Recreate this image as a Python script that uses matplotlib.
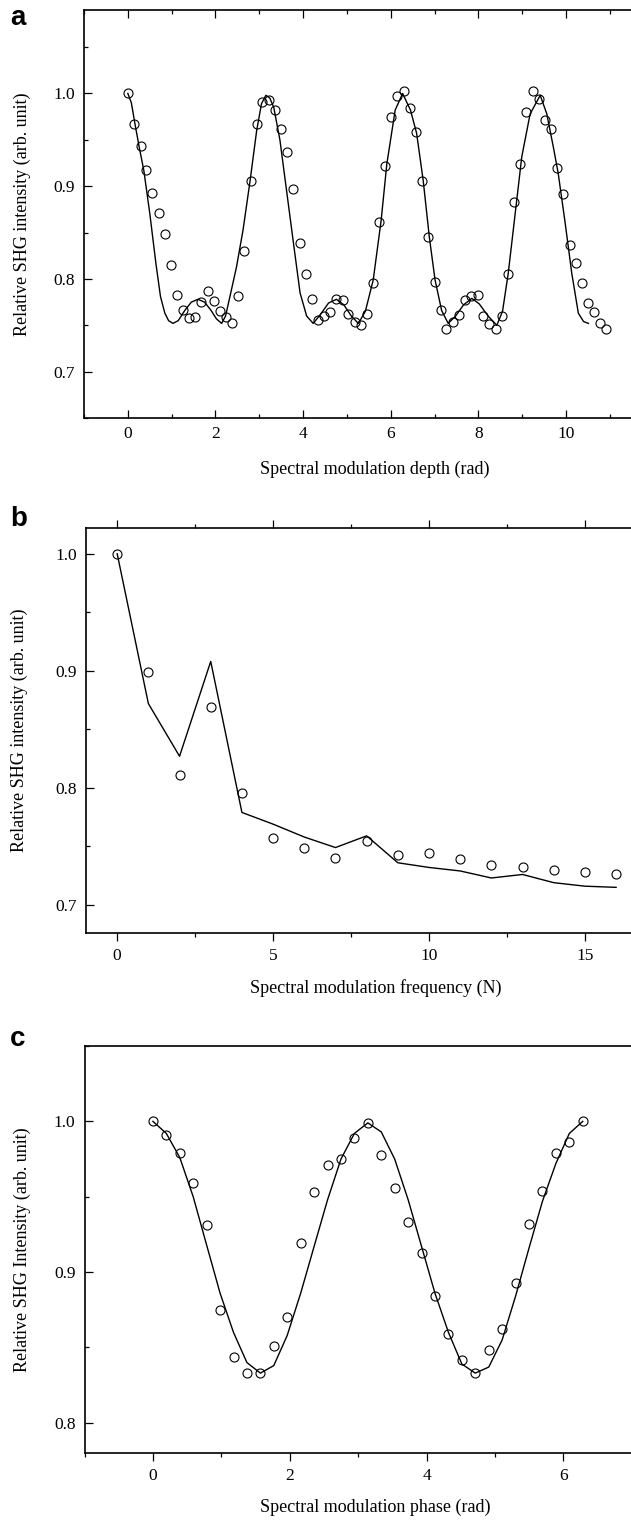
import numpy as np
import matplotlib
matplotlib.use("Agg")
import matplotlib.pyplot as plt
from matplotlib.ticker import MultipleLocator, FixedLocator

plt.rcParams['font.family'] = ['Liberation Serif', 'DejaVu Serif']

# (a) SHG vs spectral modulation depth
a_x = [0.00, 0.14, 0.29, 0.42, 0.56, 0.70, 0.84, 0.98, 1.13, 1.26, 1.40, 1.54, 1.68, 1.82,
       1.96, 2.10, 2.24, 2.38, 2.52, 2.66, 2.80, 2.94, 3.07, 3.21, 3.36, 3.50, 3.64, 3.78,
       3.92, 4.06, 4.20, 4.34, 4.48, 4.62, 4.76, 4.90, 5.03, 5.18, 5.32, 5.46, 5.60, 5.74,
       5.87, 6.01, 6.15, 6.30, 6.44, 6.58, 6.72, 6.86, 7.00, 7.14, 7.27, 7.42, 7.56, 7.69,
       7.83, 7.98, 8.11, 8.25, 8.39, 8.54, 8.67, 8.82, 8.95, 9.09, 9.24, 9.38, 9.52, 9.66,
       9.80, 9.94, 10.09, 10.22, 10.36, 10.50, 10.64, 10.78, 10.92]
a_y = [1.000, 0.967, 0.943, 0.917, 0.893, 0.871, 0.848, 0.815, 0.783, 0.766, 0.758, 0.759,
       0.775, 0.787, 0.776, 0.765, 0.759, 0.752, 0.782, 0.830, 0.906, 0.967, 0.991, 0.993,
       0.982, 0.962, 0.937, 0.897, 0.839, 0.805, 0.778, 0.756, 0.760, 0.764, 0.778, 0.777,
       0.762, 0.754, 0.750, 0.762, 0.796, 0.861, 0.922, 0.975, 0.997, 1.003, 0.984, 0.958,
       0.906, 0.845, 0.797, 0.766, 0.746, 0.753, 0.761, 0.777, 0.782, 0.783, 0.760, 0.751,
       0.746, 0.760, 0.805, 0.883, 0.924, 0.980, 1.003, 0.994, 0.971, 0.962, 0.920, 0.892,
       0.837, 0.817, 0.796, 0.774, 0.764, 0.752, 0.746]
a_fit_x = [0.00, 0.08, 0.16, 0.26, 0.365, 0.50, 0.64, 0.745, 0.845, 0.93, 1.03, 1.15, 1.30,
           1.45, 1.60, 1.75, 1.90, 2.02, 2.14, 2.23, 2.33, 2.48, 2.63, 2.79, 2.94, 3.05, 3.15,
           3.24, 3.33, 3.47, 3.62, 3.77, 3.93, 4.08, 4.23, 4.40, 4.58, 4.76, 4.93, 5.10, 5.26,
           5.42, 5.60, 5.78, 5.91, 6.10, 6.27, 6.45, 6.59, 6.74, 6.88, 7.01, 7.16, 7.31, 7.48,
           7.66, 7.85, 8.02, 8.22, 8.42, 8.55, 8.68, 8.84, 8.99, 9.18, 9.41, 9.56, 9.71, 9.82,
           9.98, 10.13, 10.28, 10.40, 10.51]
a_fit_y = [1.000, 0.990, 0.968, 0.942, 0.917, 0.871, 0.817, 0.781, 0.763, 0.755, 0.752, 0.755,
           0.766, 0.775, 0.778, 0.775, 0.766, 0.757, 0.752, 0.760, 0.781, 0.813, 0.853, 0.906,
           0.960, 0.989, 0.998, 0.995, 0.985, 0.950, 0.896, 0.842, 0.785, 0.760, 0.752, 0.762,
           0.774, 0.778, 0.772, 0.760, 0.752, 0.765, 0.799, 0.863, 0.924, 0.982, 1.000, 0.982,
           0.957, 0.906, 0.845, 0.799, 0.766, 0.752, 0.760, 0.772, 0.779, 0.773, 0.760, 0.750,
           0.765, 0.806, 0.871, 0.932, 0.978, 0.998, 0.978, 0.942, 0.914, 0.860, 0.806, 0.763,
           0.754, 0.752]
a_ticks = [0, 2, 4, 6, 8, 10]

# (b) SHG vs spectral modulation frequency
b_n = list(range(17))
b_y = [1.000, 0.899, 0.811, 0.869, 0.796, 0.757, 0.749, 0.740, 0.755, 0.743, 0.744, 0.739,
       0.734, 0.732, 0.730, 0.728, 0.726]
b_fit = [1.000, 0.872, 0.827, 0.908, 0.779, 0.769, 0.758, 0.749, 0.759, 0.736, 0.732, 0.729,
         0.723, 0.726, 0.719, 0.716, 0.715]
b_ticks = [0, 5, 10, 15]

# (c) SHG vs spectral modulation phase
c_x = [0.000, 0.196, 0.393, 0.589, 0.785, 0.982, 1.178, 1.374, 1.571, 1.767, 1.963, 2.160,
       2.356, 2.553, 2.749, 2.945, 3.142, 3.338, 3.534, 3.731, 3.927, 4.123, 4.320, 4.516,
       4.712, 4.909, 5.105, 5.301, 5.498, 5.694, 5.890, 6.087, 6.283]
c_y = [1.000, 0.991, 0.979, 0.959, 0.931, 0.875, 0.844, 0.833, 0.833, 0.851, 0.870, 0.919,
       0.953, 0.971, 0.975, 0.989, 0.999, 0.978, 0.956, 0.933, 0.913, 0.884, 0.859, 0.842,
       0.833, 0.848, 0.862, 0.893, 0.932, 0.954, 0.979, 0.986, 1.000]
c_fit = [1.000, 0.992, 0.976, 0.950, 0.918, 0.886, 0.860, 0.840, 0.833, 0.838, 0.858, 0.886,
         0.917, 0.948, 0.975, 0.992, 0.999, 0.993, 0.975, 0.948, 0.917, 0.886, 0.860, 0.839,
         0.833, 0.837, 0.855, 0.884, 0.916, 0.947, 0.972, 0.992, 1.000]
c_ticks = [0, 2, 4, 6]

W, H = 631, 1521
fig = plt.figure(figsize=(W / 100, H / 100), dpi=100)


def make_ax(left, top, bottom, right=666):
    return fig.add_axes([left / W, 1 - bottom / H, (right - left) / W, (bottom - top) / H])


def style(ax, xdir, top_ticks, ticks, minor_step):
    for s in ax.spines.values():
        s.set_linewidth(1.2)
    ax.spines['right'].set_visible(False)
    ax.xaxis.set_major_locator(FixedLocator(ticks))
    ax.xaxis.set_minor_locator(MultipleLocator(minor_step))
    ax.tick_params(axis='y', which='both', direction='in', left=True, right=False,
                   labelsize=12.5, pad=6.5, width=0.9)
    ax.tick_params(axis='x', which='both', direction=xdir, top=top_ticks,
                   labelsize=12.5, pad=6 if xdir == 'in' else 5.5, width=0.9)
    ax.tick_params(which='major', length=5.5)
    ax.tick_params(which='minor', length=3)
    ax.yaxis.set_major_locator(MultipleLocator(0.1))
    ax.yaxis.set_minor_locator(MultipleLocator(0.05))
    ax.yaxis.set_major_formatter(plt.FormatStrFormatter('%.1f'))


mk = dict(ls='none', marker='o', ms=6.5, mfc='none', mec='k', mew=0.8)

# panel a
ax = make_ax(84, 10, 418)
ax.plot(a_fit_x, a_fit_y, color='k', lw=1.0)
ax.plot(a_x, a_y, **mk)
ax.set_xlim(-1, 12.28)
ax.set_ylim(0.65, 1.09)
style(ax, 'in', True, a_ticks, 1)
ax.set_xlabel('Spectral modulation depth (rad)', fontsize=13, va='center')
ax.set_ylabel('Relative SHG intensity (arb. unit)', fontsize=13, va='center')
ax.xaxis.set_label_coords(0.5, (418 - 469) / 408)
ax.yaxis.set_label_coords((22 - 84) / 582, 0.5)

# panel b
ax = make_ax(86, 528, 933)
ax.plot(b_n, b_fit, color='k', lw=1.0)
ax.plot(b_n, b_y, **mk)
ax.set_xlim(-1, 17.6)
ax.set_ylim(0.676, 1.022)
style(ax, 'out', True, b_ticks, 2.5)
ax.set_xlabel('Spectral modulation frequency (N)', fontsize=13, va='center')
ax.set_ylabel('Relative SHG intensity (arb. unit)', fontsize=13, va='center')
ax.xaxis.set_label_coords(0.5, (933 - 988) / 405)
ax.yaxis.set_label_coords((19 - 86) / 580, 0.5)

# panel c
ax = make_ax(84.5, 1046, 1453)
ax.plot(c_x, c_fit, color='k', lw=1.0)
ax.plot(c_x, c_y, **mk)
ax.set_xlim(-1, 7.5)
ax.set_ylim(0.78, 1.05)
style(ax, 'out', False, c_ticks, 1)
ax.set_xlabel('Spectral modulation phase (rad)', fontsize=13, va='center')
ax.set_ylabel('Relative SHG Intensity (arb. unit)', fontsize=13, va='center')
ax.xaxis.set_label_coords(0.5, (1453 - 1507) / 407)
ax.yaxis.set_label_coords((22 - 84.5) / 581.5, 0.5)

for lab, yb in [('a', 25), ('b', 526), ('c', 1046)]:
    fig.text(10 / W, 1 - yb / H, lab, fontsize=20, fontweight='bold',
             family=['Liberation Sans', 'DejaVu Sans'], va='baseline', ha='left')

fig.savefig('out.png', dpi=100)
